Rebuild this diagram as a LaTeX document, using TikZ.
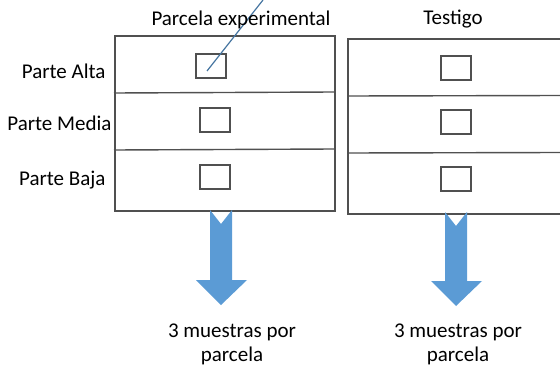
\documentclass[tikz,border=0pt]{standalone}
\usepackage{fontspec}
\setmainfont{Carlito}
\usetikzlibrary{positioning}
\definecolor{officeblue}{RGB}{91,155,213}
\definecolor{linegray}{RGB}{80,80,80}
\begin{document}
\begin{tikzpicture}[x=1pt,y=-1pt,font=\fontsize{21}{24}\selectfont,
    plot/.style={draw=linegray,line width=1.5pt,minimum width=220pt,minimum height=175pt,inner sep=0pt},
    sample/.style={draw=linegray,line width=1.3pt,minimum width=30pt,minimum height=24pt,inner sep=0pt},
    bigarrow/.style={fill=officeblue,draw=none}]
  \useasboundingbox (0,0) rectangle (560,372);
  \node[plot,anchor=north west] (exp) at (114,35) {};
  \node[plot,anchor=north west,minimum width=214pt] (ctl) at (347,38) {};
  \draw[linegray,line width=1.4pt] (114,93) -- (334,92) (114,150) -- (334,149);
  \draw[linegray,line width=1.4pt] (347,96) -- (561,95.5) (347,153) -- (561,152.5);
  % muestras
  \node[sample] (ea) at (211,66) {};
  \node[sample] (em) at (215,120) {};
  \node[sample] (eb) at (215,177) {};
  \node[sample] (ca) at (456,68) {};
  \node[sample] (cm) at (456,122) {};
  \node[sample] (cb) at (456,179) {};
  \coordinate (tip) at (263,0);
  \draw[officeblue!75!black,line width=1.2pt] (ea.center) ++(-4,5) -- (tip);
  % textos
  \node (t1) at (241,20) {Parcela experimental};
  \node (t2) at (453,19) {Testigo};
  \node[anchor=east] (alta) at (109,71) {Parte Alta};
  \node[anchor=east] (media) at (115,123) {Parte Media};
  \node[anchor=east] (baja) at (109,180) {Parte Baja};
  % flechas
  \fill[bigarrow] (210,210) -- (221,224) -- (232,210) -- (232,280) -- (247,280)
    -- (221,305) -- (196,280) -- (210,280) -- cycle;
  \fill[bigarrow] (445,212) -- (456,226) -- (467,212) -- (467,281) -- (482,281)
    -- (456,306) -- (431,281) -- (445,281) -- cycle;
  \node[align=center] (r1) at (232,344) {3 muestras por\\parcela};
  \node[align=center] (r2) at (458,344) {3 muestras por\\parcela};
\end{tikzpicture}
\end{document}
